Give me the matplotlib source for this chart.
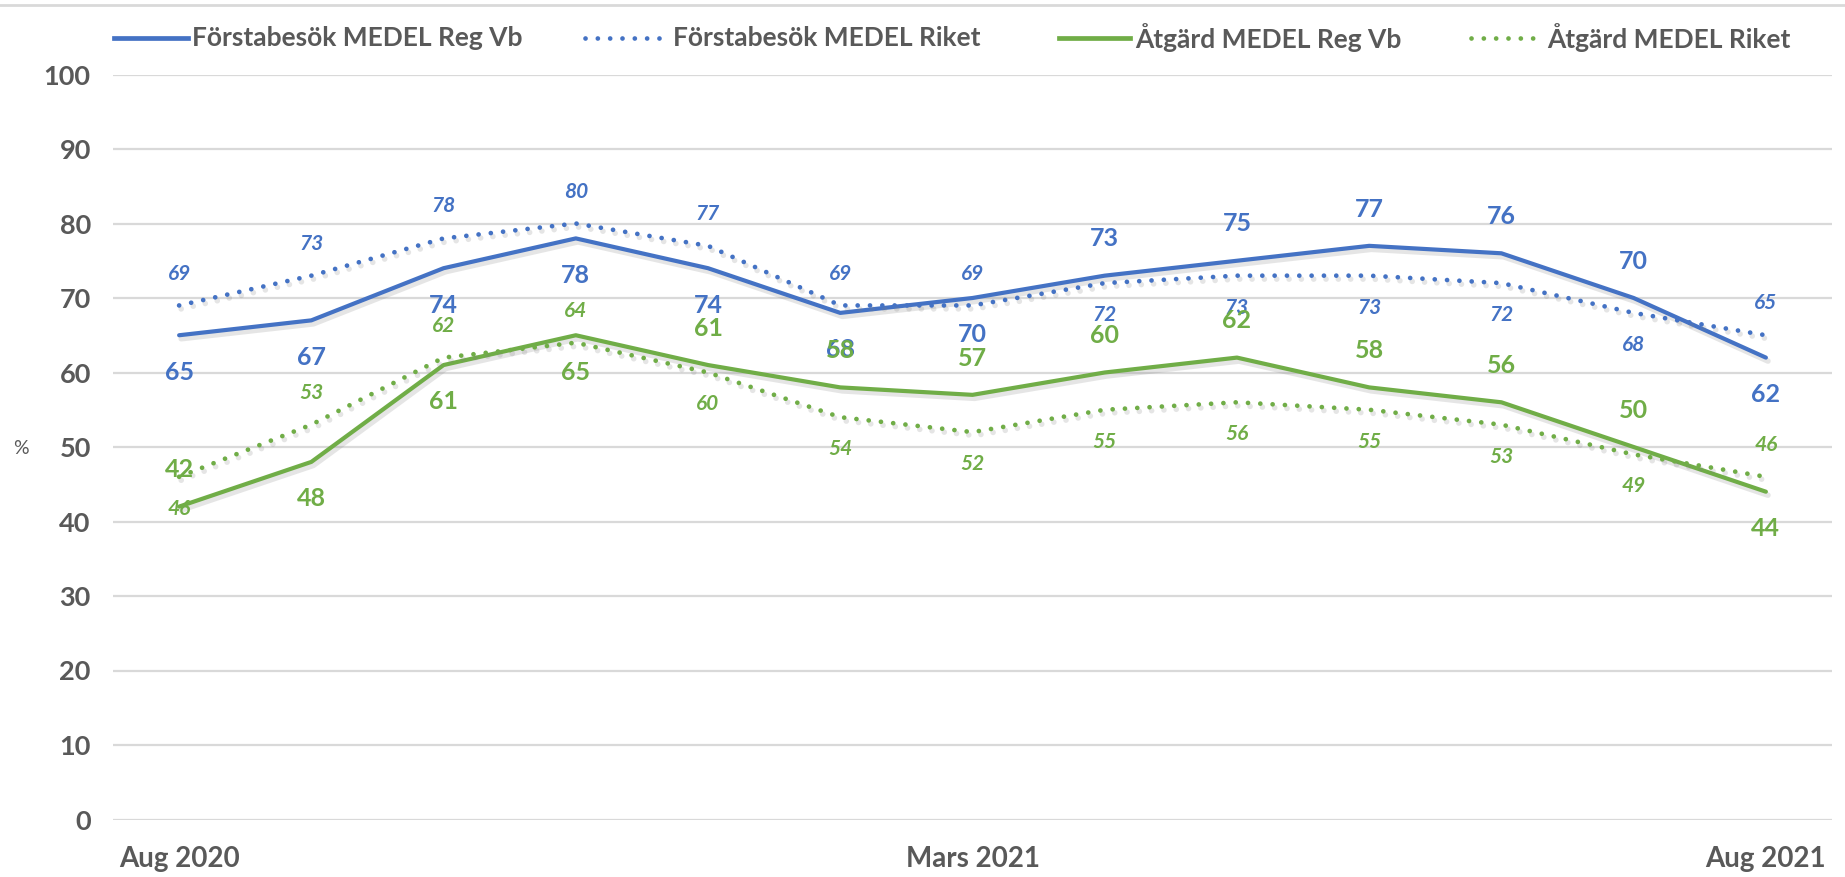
import matplotlib
matplotlib.use("Agg")
import matplotlib.pyplot as plt
import matplotlib.patheffects as pe
from matplotlib.lines import Line2D

plt.rcParams['font.family'] = ['Lato', 'DejaVu Sans']

months = ["Aug 2020", "Sep 2020", "Okt 2020", "Nov 2020", "Dec 2020", "Jan 2021",
          "Mars 2021", "Apr 2021", "Maj 2021", "Jun 2021", "Jul 2021", "Jul 2021b", "Aug 2021"]
shown_ticks = [0, 6, 12]
tick_labels = ["Aug 2020", "Mars 2021", "Aug 2021"]

series_names = ["Förstabesök MEDEL Reg Vb", "Förstabesök MEDEL Riket",
                "Åtgärd MEDEL Reg Vb", "Åtgärd MEDEL Riket"]
forst_reg = [65, 67, 74, 78, 74, 68, 70, 73, 75, 77, 76, 70, 62]
forst_riket = [69, 73, 78, 80, 77, 69, 69, 72, 73, 73, 72, 68, 65]
atg_reg = [42, 48, 61, 65, 61, 58, 57, 60, 62, 58, 56, 50, 44]
atg_riket = [46, 53, 62, 64, 60, 54, 52, 55, 56, 55, 53, 49, 46]

# label placement: +1 above, -1 below
pos_forst_reg = [-1, -1, -1, -1, -1, -1, -1, 1, 1, 1, 1, 1, -1]
pos_forst_riket = [1, 1, 1, 1, 1, 1, 1, -1, -1, -1, -1, -1, 1]
pos_atg_reg = [1, -1, -1, -1, 1, 1, 1, 1, 1, 1, 1, 1, -1]
pos_atg_riket = [-1, 1, 1, 1, -1, -1, -1, -1, -1, -1, -1, -1, 1]

BLUE = "#4472C4"
GREEN = "#70AD47"
GRAY = "#595959"
GRID = "#D9D9D9"

W, H = 1845, 877
fig = plt.figure(figsize=(W / 100, H / 100), dpi=100)
left, right, top, bottom = 113, 1832, 74.5, 819.5
ax = fig.add_axes([left / W, 1 - bottom / H, (right - left) / W, (bottom - top) / H])
ax.set_xlim(-0.5, 12.5)
ax.set_ylim(0, 100)
for s in ax.spines.values():
    s.set_visible(False)
ax.set_yticks(range(0, 101, 10))
ax.grid(axis='y', color=GRID, lw=1.6, zorder=0)
ax.tick_params(axis='y', length=0, pad=16, labelsize=19.5, labelcolor=GRAY)
for lab in ax.get_yticklabels():
    lab.set_fontweight('bold')
ax.set_xticks(shown_ticks)
ax.set_xticklabels(tick_labels, fontsize=20, fontweight='bold', color=GRAY)
ax.tick_params(axis='x', length=0, pad=19)

x = list(range(len(months)))
shadow = [pe.SimpleLineShadow(offset=(1.5, -2.5), shadow_color='#7f7f7f', alpha=0.2, linewidth=4),
          pe.Normal()]
dot_style = dict(linestyle=(0, (0.01, 2.6)), dash_capstyle='round')

ax.plot(x, forst_reg, color=BLUE, lw=3.0, solid_capstyle='round', path_effects=shadow, zorder=3)
ax.plot(x, forst_riket, color=BLUE, lw=3.4, path_effects=shadow, zorder=3, **dot_style)
ax.plot(x, atg_reg, color=GREEN, lw=3.0, solid_capstyle='round', path_effects=shadow, zorder=3)
ax.plot(x, atg_riket, color=GREEN, lw=3.4, path_effects=shadow, zorder=3, **dot_style)


def labels(vals, pos, color, solid):
    for i, (v, p) in enumerate(zip(vals, pos)):
        if solid:
            ax.annotate(str(v), (i, v), xytext=(0, 26.5 * p), textcoords='offset points',
                        ha='center', va='center', fontsize=18, fontweight='bold',
                        color=color, zorder=5)
        else:
            ax.annotate(str(v), (i, v), xytext=(0, 23 * p), textcoords='offset points',
                        ha='center', va='center', fontsize=15, fontweight='bold',
                        fontstyle='italic', color=color, zorder=5)


labels(forst_reg, pos_forst_reg, BLUE, True)
labels(forst_riket, pos_forst_riket, BLUE, False)
labels(atg_reg, pos_atg_reg, GREEN, True)
labels(atg_riket, pos_atg_riket, GREEN, False)

fig.text(21 / W, 1 - 448 / H, "%", ha='center', va='center', fontsize=14, color=GRAY)

# top border line
fig.add_artist(Line2D([0, 1], [1 - 5 / H, 1 - 5 / H], color=GRID, lw=2))

# legend
ly = 1 - 38 / H
leg = [(114, 188, 192, BLUE, False), (585, 667, 673, BLUE, True),
       (1059, 1130, 1135, GREEN, False), (1471, 1541, 1547, GREEN, True)]
for (x0, x1, xt, col, dotted), name in zip(leg, series_names):
    if dotted:
        fig.add_artist(Line2D([x0 / W, x1 / W], [ly, ly], color=col, lw=3.4, **dot_style))
    else:
        fig.add_artist(Line2D([x0 / W, x1 / W], [ly, ly], color=col, lw=3.4))
    fig.text(xt / W, ly, name, ha='left', va='center', fontsize=19, fontweight='bold', color=GRAY)

fig.savefig("out.png", dpi=100)
